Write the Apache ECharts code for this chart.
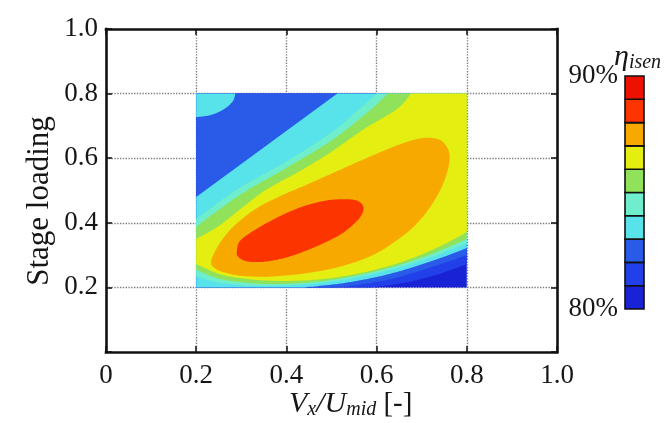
<!DOCTYPE html>
<html>
<head>
<meta charset="utf-8">
<script src="https://cdn.jsdelivr.net/npm/echarts@6/dist/echarts.min.js"></script>
<style>html,body{margin:0;padding:0;background:#fff;}#chart{width:671px;height:423px;}</style>
</head>
<body>
<div id="chart"></div>
<script>
// ---- data ----
const xTickValues = [0, 0.2, 0.4, 0.6, 0.8, 1.0];
const yTickValues = [0.2, 0.4, 0.6, 0.8, 1.0];
const effLevels = [80, 81, 82, 83, 84, 85, 86, 87, 88, 89, 90];
const levelColors = ['#1a22d6', '#2240ea', '#2a5ae8', '#58e2ea', '#6eeecc', '#90e25a', '#e4ee10', '#f7a900', '#fb3400', '#ee1100'];

// contour regions (Vx/Umid, stage loading); pieces joined by straight edges, each piece is a smooth curve
const region80 = [[[0.2, 0.8]], [[0.2, 0.2]], [[0.8, 0.2]], [[0.8, 0.8]]];
const region81 = [[[0.2, 0.8]], [[0.2, 0.2]], [[0.59, 0.2], [0.66, 0.214], [0.73, 0.238], [0.8, 0.272]], [[0.8, 0.8]]];
const region82 = [[[0.2, 0.8]], [[0.2, 0.2]], [[0.51, 0.2], [0.58, 0.212], [0.65, 0.232], [0.72, 0.262], [0.8, 0.3]], [[0.8, 0.8]]];
const region83 = [[[0.513, 0.8], [0.2, 0.48]], [[0.2, 0.2]], [[0.44, 0.2], [0.52, 0.212], [0.60, 0.232], [0.67, 0.258], [0.74, 0.29], [0.8, 0.322]], [[0.8, 0.8]]];
const region83corner = [[[0.2, 0.8]], [[0.287, 0.8], [0.281, 0.776], [0.262, 0.752], [0.233, 0.734], [0.2, 0.727]]];
const region84 = [[[0.60, 0.8], [0.55, 0.738], [0.5, 0.68], [0.40, 0.59], [0.29, 0.503], [0.2, 0.41]],
  [[0.2, 0.235], [0.25, 0.215], [0.32, 0.205], [0.40, 0.206], [0.48, 0.214], [0.56, 0.232], [0.64, 0.258], [0.72, 0.293], [0.8, 0.336]], [[0.8, 0.8]]];
const region85 = [[[0.625, 0.8], [0.58, 0.742], [0.5, 0.655], [0.40, 0.57], [0.31, 0.498], [0.25, 0.44], [0.2, 0.388]],
  [[0.2, 0.255], [0.25, 0.227], [0.32, 0.213], [0.40, 0.211], [0.48, 0.219], [0.56, 0.238], [0.64, 0.265], [0.72, 0.302], [0.8, 0.35]], [[0.8, 0.8]]];
const region86 = [[[0.676, 0.8], [0.646, 0.753], [0.572, 0.69], [0.5, 0.62], [0.43, 0.56], [0.356, 0.503], [0.30, 0.445], [0.25, 0.39], [0.2, 0.35]],
  [[0.2, 0.272], [0.25, 0.242], [0.30, 0.228], [0.36, 0.221], [0.43, 0.221], [0.50, 0.229], [0.57, 0.246], [0.65, 0.276], [0.72, 0.314], [0.77, 0.348], [0.8, 0.372]], [[0.8, 0.8]]];
const region87 = [[[0.233, 0.278], [0.245, 0.32], [0.27, 0.37], [0.30, 0.41], [0.34, 0.45], [0.39, 0.485], [0.44, 0.515], [0.50, 0.552], [0.572, 0.597], [0.646, 0.64], [0.70, 0.662], [0.738, 0.658], [0.757, 0.632], [0.762, 0.598], [0.755, 0.55], [0.737, 0.49], [0.71, 0.432], [0.68, 0.385], [0.646, 0.347], [0.60, 0.306], [0.55, 0.277], [0.50, 0.258], [0.45, 0.245], [0.40, 0.237], [0.35, 0.233], [0.30, 0.236], [0.265, 0.245], [0.243, 0.258]]];
const region88 = [[[0.290, 0.310], [0.296, 0.342], [0.319, 0.368], [0.356, 0.399], [0.400, 0.430], [0.444, 0.454], [0.489, 0.469], [0.526, 0.473], [0.556, 0.469], [0.570, 0.451], [0.567, 0.425], [0.548, 0.394], [0.519, 0.363], [0.481, 0.336], [0.437, 0.310], [0.393, 0.290], [0.348, 0.279], [0.311, 0.281], [0.293, 0.295]]];

const contourRegions = [
  { level: 0, pieces: region80 },
  { level: 1, pieces: region81 },
  { level: 2, pieces: region82 },
  { level: 3, pieces: region83 },
  { level: 3, pieces: region83corner },
  { level: 4, pieces: region84 },
  { level: 5, pieces: region85 },
  { level: 6, pieces: region86 },
  { level: 7, pieces: region87, closed: true },
  { level: 8, pieces: region88, closed: true }
];

// ---- rendering ----
const FONT = '"Liberation Serif", "Times New Roman", serif';
const TXT = '#161616';

function catmull(pts, closed, steps) {
  const n = pts.length;
  if (n < 3) return pts.slice();
  const out = [];
  const segs = closed ? n : n - 1;
  for (let i = 0; i < segs; i++) {
    const p0 = pts[closed ? (i - 1 + n) % n : Math.max(i - 1, 0)];
    const p1 = pts[i];
    const p2 = pts[(i + 1) % n];
    const p3 = pts[closed ? (i + 2) % n : Math.min(i + 2, n - 1)];
    for (let s = 0; s < steps; s++) {
      const t = s / steps, t2 = t * t, t3 = t2 * t;
      const f = k => 0.5 * ((2 * p1[k]) + (-p0[k] + p2[k]) * t + (2 * p0[k] - 5 * p1[k] + 4 * p2[k] - p3[k]) * t2 + (-p0[k] + 3 * p1[k] - 3 * p2[k] + p3[k]) * t3);
      out.push([f(0), f(1)]);
    }
  }
  if (!closed) out.push(pts[n - 1]);
  return out;
}

function renderContour(params, api) {
  const r = contourRegions[api.value(2)];
  let pts = [];
  r.pieces.forEach(piece => {
    const px = piece.map(p => api.coord(p));
    pts = pts.concat(catmull(px, !!r.closed, 14));
  });
  return { type: 'polygon', silent: true, shape: { points: pts }, style: { fill: levelColors[r.level] } };
}

function renderColorbar(params, api) {
  const lo = api.value(1), hi = api.value(2), idx = api.value(3);
  const a = api.coord([0, hi]);
  const b = api.coord([1, lo]);
  return { type: 'rect', silent: true, shape: { x: a[0], y: a[1], width: b[0] - a[0], height: b[1] - a[1] },
    style: { fill: levelColors[idx], stroke: '#111', lineWidth: 1.6 } };
}

const tickStyle = { show: true, inside: true, length: 6, lineStyle: { color: '#111', width: 1.5 } };
const boxLine = { show: true, onZero: false, lineStyle: { color: '#111', width: 2.6, cap: 'square' } };
const gridLine = { show: true, showMinLine: false, showMaxLine: false, lineStyle: { color: '#808080', type: 'dotted', width: 1.4 } };

const chart = echarts.init(document.getElementById('chart'), null, { renderer: 'canvas' });
chart.setOption({
  animation: false,
  backgroundColor: '#ffffff',
  grid: [
    { left: 106, top: 29, width: 451, height: 323, show: false },
    { left: 625, top: 76, width: 19, height: 233, show: false }
  ],
  xAxis: [
    { gridIndex: 0, type: 'value', min: 0, max: 1, interval: 0.2, position: 'bottom',
      axisLine: boxLine, axisTick: tickStyle,
      axisLabel: { fontFamily: FONT, fontSize: 27, color: TXT, margin: 10,
        formatter: v => { const m = xTickValues.find(t => Math.abs(t - v) < 1e-6); return m === 0 ? '0' : m.toFixed(1); } },
      splitLine: gridLine },
    { gridIndex: 0, type: 'value', min: 0, max: 1, interval: 0.2, position: 'top',
      axisLine: boxLine, axisTick: tickStyle, axisLabel: { show: false }, splitLine: { show: false } },
    { gridIndex: 1, type: 'value', min: 0, max: 1, show: false }
  ],
  yAxis: [
    { gridIndex: 0, type: 'value', min: 0, max: 1, interval: 0.2, position: 'left',
      axisLine: boxLine, axisTick: tickStyle,
      axisLabel: { fontFamily: FONT, fontSize: 27, color: TXT, margin: 8,
        formatter: v => { const m = yTickValues.find(t => Math.abs(t - v) < 1e-6); return m === undefined ? '' : m.toFixed(1); } },
      splitLine: gridLine },
    { gridIndex: 0, type: 'value', min: 0, max: 1, interval: 0.2, position: 'right',
      axisLine: boxLine, axisTick: tickStyle, axisLabel: { show: false }, splitLine: { show: false } },
    { gridIndex: 1, type: 'value', min: effLevels[0], max: effLevels[effLevels.length - 1], interval: 10, position: 'left',
      axisLine: { show: false }, axisTick: { show: false }, splitLine: { show: false },
      axisLabel: { formatter: '{value}%', fontFamily: FONT, fontSize: 27, color: TXT, margin: 7, padding: [10, 0, 0, 0] } }
  ],
  graphic: [
    { type: 'text', x: 40, y: 201, rotation: Math.PI / 2, silent: true,
      style: { text: 'Stage loading', fontFamily: FONT, fontSize: 31, fill: TXT, align: 'center', verticalAlign: 'middle', textAlign: 'center', textVerticalAlign: 'middle' } },
    { type: 'text', x: 289, y: 404, silent: true,
      style: { text: '{v|V}{s|x}{v|/U}{s|mid}{n| [-]}', fill: TXT, align: 'left', verticalAlign: 'middle', textAlign: 'left', textVerticalAlign: 'middle',
        rich: {
          v: { fontFamily: FONT, fontStyle: 'italic', fontSize: 30, lineHeight: 32, fill: TXT, color: TXT },
          s: { fontFamily: FONT, fontStyle: 'italic', fontSize: 20, lineHeight: 12, verticalAlign: 'bottom', fill: TXT, color: TXT },
          n: { fontFamily: FONT, fontSize: 29, lineHeight: 32, fill: TXT, color: TXT }
        } } },
    { type: 'text', x: 614, y: 57, silent: true,
      style: { text: '{e|η}{s|isen}', fill: TXT, align: 'left', verticalAlign: 'middle', textAlign: 'left', textVerticalAlign: 'middle',
        rich: {
          e: { fontFamily: FONT, fontStyle: 'italic', fontSize: 30, lineHeight: 32, fill: TXT, color: TXT },
          s: { fontFamily: FONT, fontStyle: 'italic', fontSize: 20, lineHeight: 12, verticalAlign: 'bottom', fill: TXT, color: TXT }
        } } }
  ],
  series: [
    { type: 'custom', xAxisIndex: 0, yAxisIndex: 0, renderItem: renderContour, silent: true, z: 3,
      data: contourRegions.map((r, i) => [0.5, 0.5, i]) },
    { type: 'custom', xAxisIndex: 2, yAxisIndex: 2, renderItem: renderColorbar, silent: true,
      data: levelColors.map((c, i) => [0.5, effLevels[i], effLevels[i + 1], i]) }
  ]
});
</script>
</body>
</html>
